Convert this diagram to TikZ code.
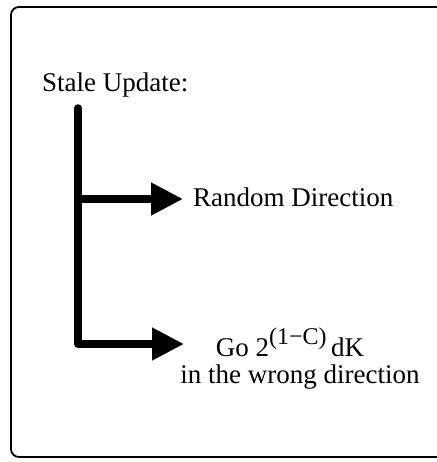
\documentclass[tikz,border=0pt]{standalone}
\usepackage{fontspec}
\setmainfont{Liberation Serif}
\usetikzlibrary{arrows.meta}
\begin{document}
\begin{tikzpicture}[x=1pt,y=-1pt,
  lbl/.style={inner sep=0pt,font=\fontsize{27}{27}\selectfont},
  frame/.style={line width=1.8pt,rounded corners=8pt},
  trunk/.style={line width=7.5pt,line cap=round,line join=round},
  branch/.style={line width=7.5pt,-{Triangle[length=32pt,width=31pt]}}]
\useasboundingbox (0,0) rectangle (436,462);
\draw[frame] (440,7) -- (11,7) -- (11,457) -- (440,457);
\node[lbl,anchor=base west] (stale) at (42,92) {Stale Update:};
\node[lbl,anchor=base west] (rand) at (193,206) {Random Direction};
\node[lbl,anchor=base,align=center] (go) at (300,383)
  {Go 2\raisebox{12pt}{\fontsize{24}{24}\selectfont(1−C)}\,dK\hspace*{20pt}\\in the wrong direction};
\coordinate (top) at (78,108);
\coordinate (j1) at (78,199);
\coordinate (corner) at (78,344);
\coordinate (tip1) at (183,199);
\coordinate (tip2) at (184,344);
\draw[trunk] (top) -- (corner) -- ++(10,0);
\draw[branch] (j1) -- (tip1);
\draw[branch] (corner) -- (tip2);
\end{tikzpicture}
\end{document}
